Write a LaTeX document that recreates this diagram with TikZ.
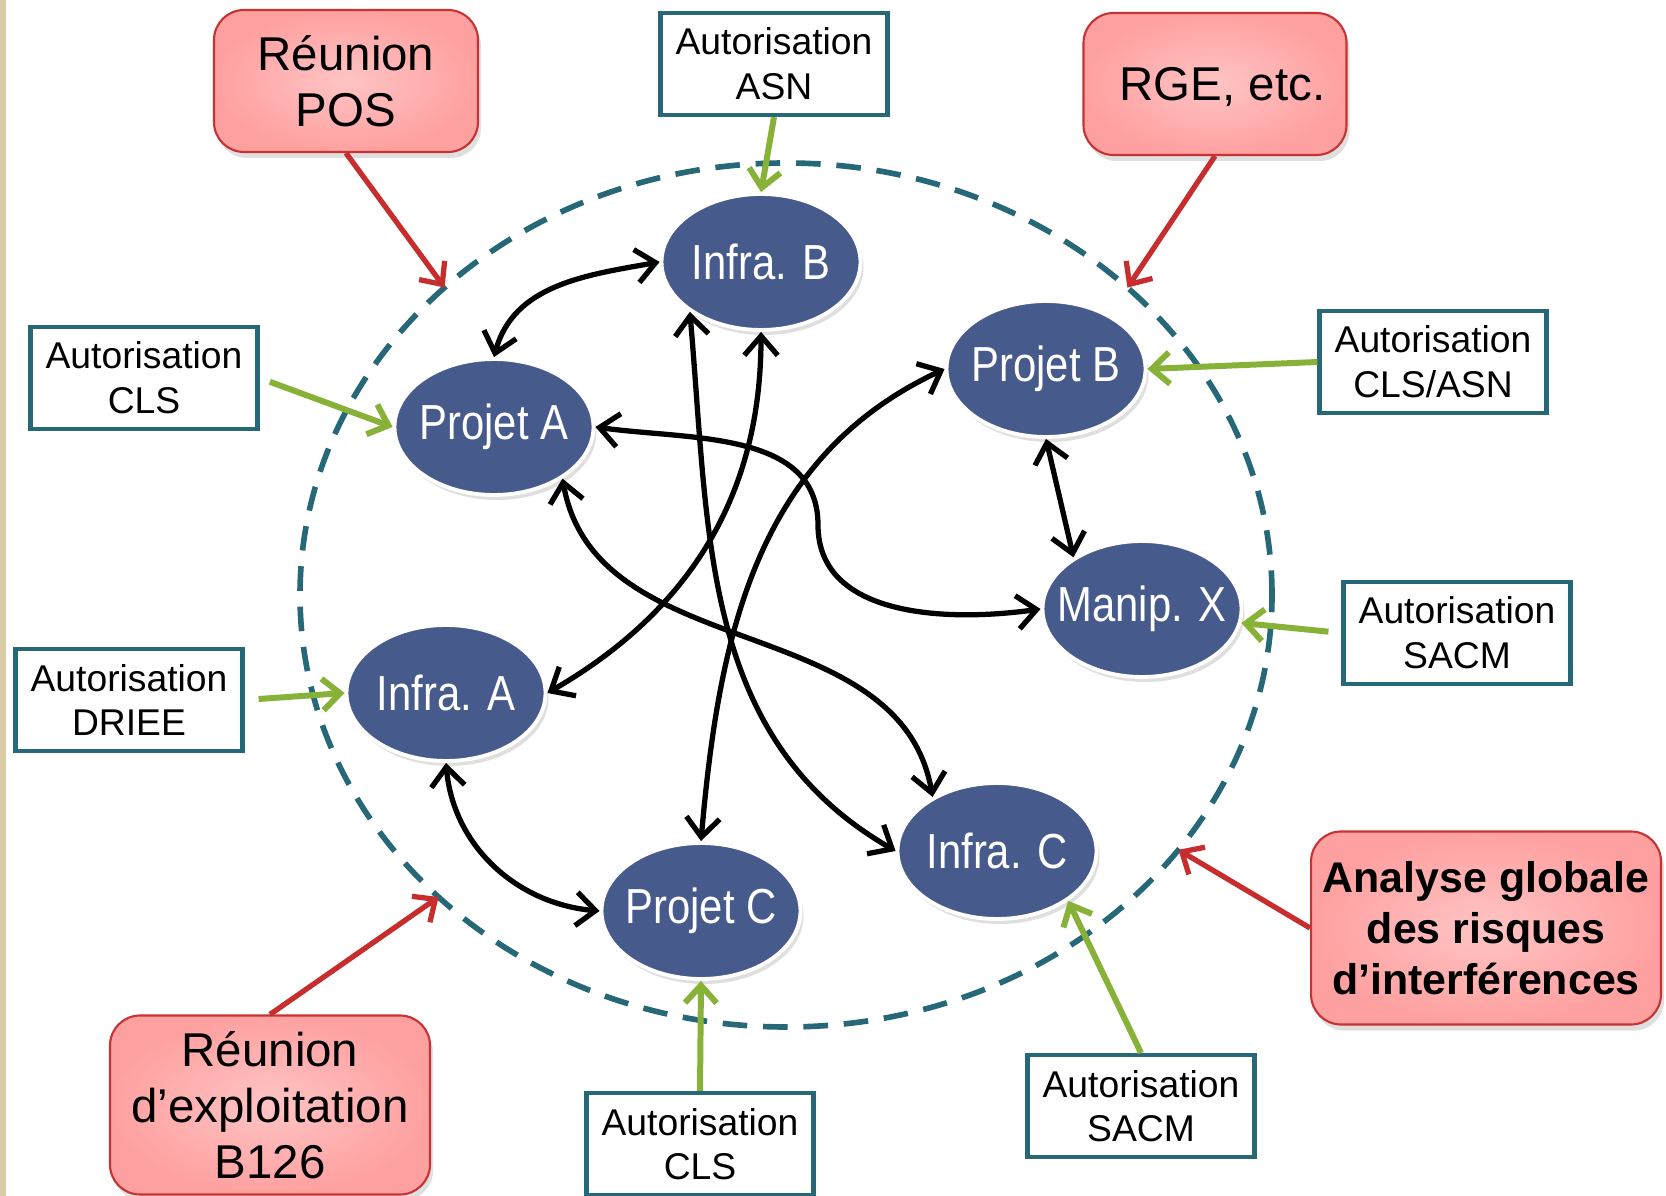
\documentclass[tikz,border=0pt]{standalone}
\usepackage{fontspec}
\setmainfont{Liberation Sans}
\newfontfamily\narrowsans[FakeStretch=0.85]{Liberation Sans}
\definecolor{ellblue}{RGB}{71,90,140}
\definecolor{authteal}{RGB}{38,104,120}
\definecolor{meetred}{RGB}{200,50,50}
\definecolor{meetpinkin}{RGB}{255,196,196}
\definecolor{meetpinkout}{RGB}{255,160,160}
\definecolor{arrred}{RGB}{200,45,45}
\definecolor{arrgreen}{RGB}{135,178,55}
\definecolor{stripbeige}{RGB}{218,204,165}
\usetikzlibrary{arrows.meta,positioning,shapes.geometric,shadows}

\begin{document}
\begin{tikzpicture}[
  site/.style={ellipse,draw=white,line width=1.1pt,fill=ellblue,text=white,
    minimum width=1.99cm,minimum height=1.36cm,inner ysep=0pt,inner xsep=-0.25cm,
    font=\narrowsans\fontsize{14}{16}\selectfont,
    drop shadow={opacity=0.25,shadow xshift=0.3mm,shadow yshift=-0.5mm}},
  authbox/.style={draw=authteal,line width=1.2pt,fill=white,align=center,
    minimum width=2.27cm,minimum height=1.02cm,inner sep=1pt,
    font=\fontsize{10.6}{12.7}\selectfont},
  meetbox/.style={draw=meetred,line width=0.6pt,rounded corners=0.3cm,
    inner color=meetpinkin,outer color=meetpinkout,align=center,
    font=\fontsize{13.5}{16}\selectfont,
    drop shadow={opacity=0.25,shadow xshift=0.3mm,shadow yshift=-0.6mm}},
  zoneline/.style={ellipse,draw=authteal,line width=1.6pt,
    dash pattern=on 7pt off 4.5pt,outer sep=0pt,
    minimum width=9.72cm,minimum height=8.64cm},
  link/.style={black,line width=1.5pt,
    {Straight Barb[length=5.5pt,width=9.5pt]}-{Straight Barb[length=5.5pt,width=9.5pt]}},
  permit/.style={arrgreen,line width=1.7pt,-{Straight Barb[length=5pt,width=9pt]}},
  meetarr/.style={arrred,line width=1.5pt,-{Straight Barb[length=5pt,width=9pt]}}
]
  \useasboundingbox (0,0) rectangle (16.66,-11.96);
  \fill[white] (0,0) rectangle (16.66,-11.96);
  \fill[stripbeige] (0,0) rectangle (0.06,-11.96);

  % perimetre
  \node[zoneline] (zone) at (7.86,-5.95) {};

  % installations
  \node[site] (infraB) at (7.61,-2.62) {Infra. B};
  \node[site] (projA) at (4.94,-4.27) {Projet A};
  \node[site] (projB) at (10.46,-3.69) {Projet B};
  \node[site] (manipX) at (11.42,-6.09) {Manip. X};
  \node[site] (infraA) at (4.46,-6.93) {Infra. A};
  \node[site] (projC) at (7.01,-9.11) {Projet C};
  \node[site] (infraC) at (9.97,-8.51) {Infra. C};

  % autorisations
  \node[authbox] (autASN) at (7.74,-0.64) {Autorisation\\ASN};
  \node[authbox] (autCLSa) at (1.44,-3.78) {Autorisation\\CLS};
  \node[authbox] (autCLSASN) at (14.33,-3.62) {Autorisation\\CLS/ASN};
  \node[authbox] (autDRIEE) at (1.29,-7.00) {Autorisation\\DRIEE};
  \node[authbox] (autSACMa) at (14.57,-6.33) {Autorisation\\SACM};
  \node[authbox] (autSACMb) at (11.41,-11.06) {Autorisation\\SACM};
  \node[authbox] (autCLSb) at (7.00,-11.44) {Autorisation\\CLS};

  % reunions
  \node[meetbox,minimum width=2.64cm,minimum height=1.42cm] (reunPOS) at (3.46,-0.81) {Réunion\\POS};
  \node[meetbox,minimum width=2.63cm,minimum height=1.42cm,text depth=0pt] (rge) at (12.15,-0.84) {\hspace{0.15cm}RGE, etc.};
  \node[meetbox,minimum width=3.2cm,minimum height=1.79cm] (reunB126) at (2.70,-11.05) {Réunion\\d’exploitation\\B126};
  \node[meetbox,minimum width=3.48cm,minimum height=1.93cm,font=\fontsize{12.2}{14.6}\selectfont\bfseries] (analyse) at (14.86,-9.28) {Analyse globale\\des risques\\d’interférences};

  \draw[meetarr] (reunPOS.south) -- (zone.138);
  \draw[meetarr] (rge.south) -- (zone.42);
  \draw[meetarr] (reunB126.north) -- (zone.221);
  \draw[meetarr] (analyse.west) -- (zone.-33);

  \draw[permit] (autASN.south) -- (infraB.north);
  \draw[permit,shorten <=0.11cm] (autCLSa.east) -- (projA.west);
  \draw[permit] (autCLSASN.west) -- (projB.east);
  \draw[permit,shorten <=0.14cm] (autDRIEE.east) -- (infraA.west);
  \draw[permit,shorten <=0.13cm] (autSACMa.west) -- (manipX.-8);
  \draw[permit] (autSACMb.north) -- (infraC.-35);
  \draw[permit] (autCLSb.north) -- (projC.south);

  % interferences
  \draw[link] (projA.north) to[out=75,in=190] (infraB.west);
  \draw[link] (infraB.215) to[out=-85,in=150] (infraC.west);
  \draw[link] (infraB.south) to[out=-90,in=30] (infraA.east);
  \draw[link] (projB.west) to[out=205,in=85] (projC.north);
  \draw[link] (projA.east) to[out=-8,in=90] (8.18,-5.25) to[out=-90,in=188] (manipX.west);
  \draw[link] (projA.-37) to[out=-80,in=100] (infraC.140);
  \draw[link] (projB.south) -- (manipX.143);
  \draw[link] (infraA.south) to[out=-85,in=175] (projC.west);
\end{tikzpicture}
\end{document}
